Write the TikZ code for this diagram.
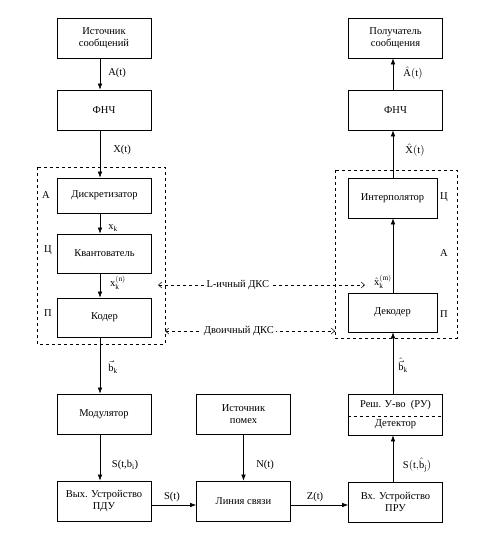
\documentclass[tikz,border=0pt]{standalone}
\usepackage{fontspec}
\setmainfont{Liberation Serif}
\usetikzlibrary{arrows.meta}
\begin{document}
\begin{tikzpicture}[x=1pt, y=-1pt, font=\fontsize{10.5}{12.5}\selectfont,
  blok/.style={draw, line width=0.7pt, minimum width=94pt, minimum height=40pt, align=center, inner sep=1pt},
  strel/.style={-{Latex[length=6pt,width=4.5pt]}, line width=0.6pt},
  dks/.style={dashed, {Straight Barb[length=3.5pt,width=6pt]}-{Straight Barb[length=3.5pt,width=6pt]}, line width=0.5pt},
  ramka/.style={dashed, line width=0.6pt},
  metka/.style={inner sep=1pt}]
\useasboundingbox (0,0) rectangle (496,547);
% колонки стрелок
\coordinate (kolL) at (100,0);
\coordinate (kolR) at (393,0);
\coordinate (ryad) at (0,505);
% передающая часть
\node[blok] (ist) at (104,38) {Источник\\сообщений};
\node[blok] (fnch1) at (104,110) {ФНЧ};
\node[blok, minimum height=35pt] (diskr) at (104.5,195.5) {Дискретизатор};
\node[blok, minimum height=39pt] (kvant) at (104.5,253.5) {Квантователь};
\node[blok, minimum height=39pt] (koder) at (104.5,317.5) {Кодер};
\node[blok] (mod) at (104,414) {Модулятор};
\node[blok] (vyh) at (104,501) {Вых. Устройство\\ПДУ};
% канал
\node[blok] (pomeh) at (243.5,414) {Источник\\помех};
\node[blok] (liniya) at (243.5,501) {Линия связи};
% приемная часть
\node[blok] (vh) at (395.5,502) {Вх. Устройство\\ПРУ};
\node[blok, minimum height=41pt] (det) at (395.5,414.5) {Реш. У-во\ \ (РУ)\\[6pt]Детектор};
\node[blok, minimum width=89pt, minimum height=39pt] (dekod) at (392.5,312.5) {Декодер};
\node[blok, minimum width=89pt] (interp) at (392.5,198) {Интерполятор};
\node[blok] (fnch2) at (395.5,110) {ФНЧ};
\node[blok] (pol) at (395.5,38) {Получатель\\сообщения};
\draw[dashed, line width=0.5pt] ([yshift=-1.5pt]det.west) -- ([yshift=-1.5pt]det.east);
% рамки АЦП и ЦАП
\draw[ramka] (37,167) rectangle (165,344);
\draw[ramka] (335,170) rectangle (457,338);
\node[metka] (ra) at (46,195) {А};
\node[metka] (rc) at (48,250) {Ц};
\node[metka] (rp) at (48,313) {П};
\node[metka] (pc) at (444,197) {Ц};
\node[metka] (pa) at (444,253) {А};
\node[metka] (pp) at (444,314) {П};
% стрелки слева
\draw[strel] (ist.south -| kolL) -- (fnch1.north -| kolL);
\draw[strel] (fnch1.south -| kolL) -- (diskr.north -| kolL);
\draw[strel] (diskr.south -| kolL) -- (kvant.north -| kolL);
\draw[strel] (kvant.south -| kolL) -- (koder.north -| kolL);
\draw[strel] (koder.south -| kolL) -- (mod.north -| kolL);
\draw[strel] (mod.south -| kolL) -- (vyh.north -| kolL);
\draw[strel] (pomeh.south) -- (liniya.north);
\draw[strel] (vyh.east |- ryad) -- (liniya.west |- ryad);
\draw[strel] (liniya.east |- ryad) -- (vh.west |- ryad);
% стрелки справа
\draw[strel] (vh.north -| kolR) -- (det.south -| kolR);
\draw[strel] (det.north -| kolR) -- (dekod.south -| kolR);
\draw[strel] (dekod.north -| kolR) -- (interp.south -| kolR);
\draw[strel] (interp.north -| kolR) -- (fnch2.south -| kolR);
\draw[strel] (fnch2.north -| kolR) -- (pol.south -| kolR);
% ДКС
\coordinate (L1) at (158,285);
\coordinate (L2) at (365,285);
\coordinate (D1) at (165,331);
\coordinate (D2) at (335,331);
\draw[dks] (L1) -- (L2) node[pos=0.386, fill=white, inner sep=2pt] (lL) {L-ичный ДКС};
\draw[dks] (D1) -- (D2) node[pos=0.435, fill=white, inner sep=2pt] (lD) {Двоичный ДКС};
% подписи сигналов
\node[metka] (lA) at (117,73) {A(t)};
\node[metka] (lX) at (122,150) {X(t)};
\node[metka] (lxk) at (113,228) {$\mathrm{x}_\mathrm{k}$};
\node[metka] (lxkn) at (118,283) {$\mathrm{x}_\mathrm{k}^{(\mathrm{n})}$};
\node[metka] (lbk) at (113,367) {$\vec{\mathrm{b}}_\mathrm{k}$};
\node[metka] (lSbi) at (125,465) {S(t,b$_\mathrm{i}$)};
\node[metka] (lN) at (265,465) {N(t)};
\node[metka] (lS) at (172,497) {S(t)};
\node[metka] (lZ) at (315,497) {Z(t)};
\node[metka] (lSbj) at (417,465) {$\mathrm{S(t,}\hat{\mathrm{b}}_\mathrm{j}\mathrm{)}$};
\node[metka] (lbkh) at (403,365) {$\hat{\vec{\mathrm{b}}}_\mathrm{k}$};
\node[metka] (lxkm) at (383,282) {$\hat{\mathrm{x}}_\mathrm{k}^{(\mathrm{m})}$};
\node[metka] (lXh) at (415,150) {$\hat{\mathrm{X}}\mathrm{(t)}$};
\node[metka] (lAh) at (413,73) {$\hat{\mathrm{A}}\mathrm{(t)}$};
\end{tikzpicture}
\end{document}
